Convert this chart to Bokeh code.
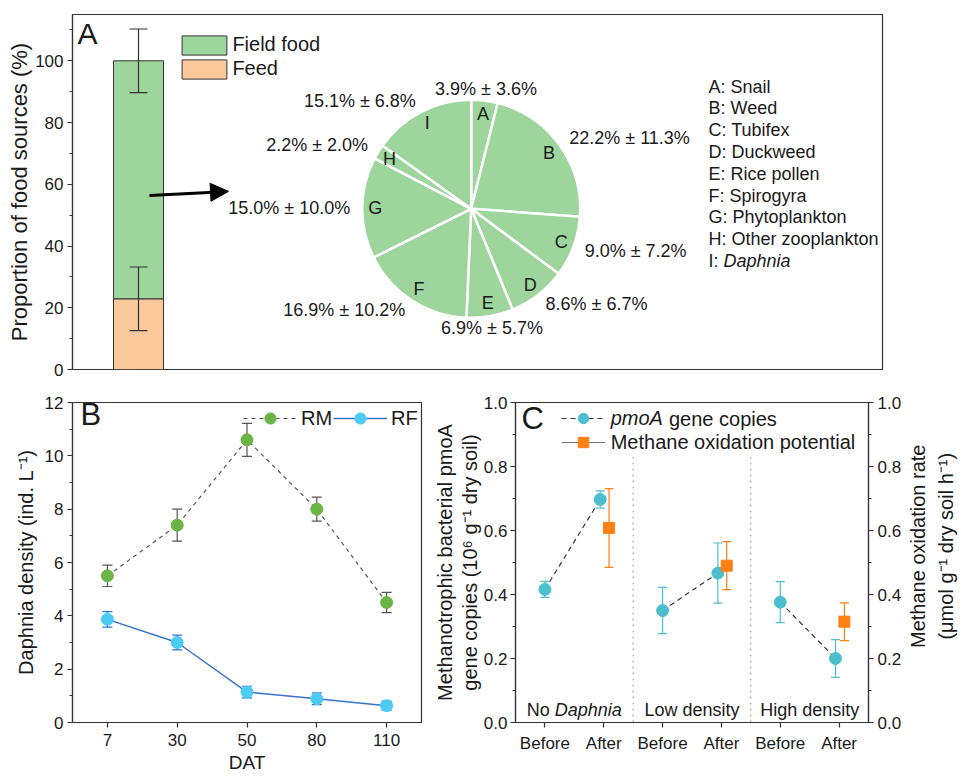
import math
from bokeh.plotting import figure
from bokeh.layouts import column, row
from bokeh.models import (ColumnDataSource, Range1d, SingleIntervalTicker, FixedTicker, Whisker,
                          TeeHead, Legend, LegendItem, Label, Arrow, NormalHead, LinearAxis,
                          NumeralTickFormatter)
from bokeh.core.properties import value
from bokeh.embed import file_html
from bokeh.resources import INLINE

# ---------------- data ----------------
source_names = ["Field food", "Feed"]
source_pct = [77.1, 22.9]
source_sd = [10.3, 10.3]

pie_letters = ["A", "B", "C", "D", "E", "F", "G", "H", "I"]
pie_names = ["Snail", "Weed", "Tubifex", "Duckweed", "Rice pollen", "Spirogyra",
             "Phytoplankton", "Other zooplankton", "Daphnia"]
pie_pct = [3.9, 22.2, 9.0, 8.6, 6.9, 16.9, 15.0, 2.2, 15.1]
pie_sd = [3.6, 11.3, 7.2, 6.7, 5.7, 10.2, 10.0, 2.0, 6.8]

dat_labels = ["7", "30", "50", "80", "110"]
rm_mean = [5.5, 7.4, 10.6, 8.0, 4.5]
rm_sd = [0.40, 0.60, 0.62, 0.45, 0.38]
rf_mean = [3.87, 3.0, 1.14, 0.89, 0.63]
rf_sd = [0.29, 0.28, 0.22, 0.22, 0.17]

groups = ["No Daphnia", "Low density", "High density"]
phases = ["Before", "After"]
pmoa_mean = [0.416, 0.697, 0.350, 0.467, 0.376, 0.200]
pmoa_sd = [0.025, 0.027, 0.072, 0.094, 0.064, 0.059]
mox_mean = [0.608, 0.490, 0.315]
mox_sd = [0.123, 0.075, 0.059]

# ---------------- style ----------------
FONT = "Liberation Sans"
AX = "#333333"
TXT = "#1a1a1a"
FIELD_C = "#9dd59c"
FEED_C = "#fbc99c"
RM_C = "#6ab545"
RM_ERR = "#555555"
RF_C = "#4ccbf6"
RF_LINE = "#3473d1"
PM_C = "#4cbfcf"
MOX_C = "#ff7f10"

ARIAL = {" ": 278, "(": 333, ")": 333, ".": 278, "-": 333, "%": 889, ":": 278,
         "A": 667, "B": 667, "C": 722, "D": 722, "E": 667, "F": 611, "G": 778, "H": 722,
         "I": 278, "L": 556, "M": 833, "N": 722, "O": 778, "P": 667, "R": 722, "S": 667,
         "T": 611, "W": 944, "a": 556, "b": 556, "c": 500, "d": 556, "e": 556, "f": 278,
         "g": 556, "h": 556, "i": 222, "j": 222, "k": 500, "l": 222, "m": 833, "n": 556,
         "o": 556, "p": 556, "q": 556, "r": 333, "s": 500, "t": 278, "u": 556, "v": 500,
         "w": 722, "x": 500, "y": 500, "z": 500}


def tw(s, px):
    return sum(ARIAL.get(c, 556) for c in s) * px / 1000.0


def style_axis(ax, size="17px", standoff=4):
    ax.axis_line_color = AX
    ax.axis_line_width = 1.2
    ax.major_tick_line_color = AX
    ax.minor_tick_line_color = AX
    ax.major_tick_line_width = 1.2
    ax.major_tick_in = 0
    ax.major_tick_out = 5
    ax.minor_tick_in = 0
    ax.minor_tick_out = 3
    ax.major_label_text_font = FONT
    ax.major_label_text_font_size = size
    ax.major_label_text_color = TXT
    ax.major_label_standoff = standoff


def axis_title(ax, text, size, standoff):
    ax.axis_label = text
    ax.axis_label_text_font = FONT
    ax.axis_label_text_font_size = f"{size}px"
    ax.axis_label_text_font_style = "normal"
    ax.axis_label_text_color = TXT
    ax.axis_label_standoff = standoff


def label_only_axis(text, size, standoff, **kw):
    ax = LinearAxis(ticker=FixedTicker(ticks=[]), **kw)
    ax.axis_line_color = None
    ax.major_tick_line_color = None
    ax.minor_tick_line_color = None
    ax.major_tick_out = 0
    ax.major_tick_in = 0
    ax.minor_tick_out = 0
    ax.minor_tick_in = 0
    ax.major_label_standoff = 0
    axis_title(ax, text, size, standoff)
    return ax


def base_fig(w, h, xr, yr, bl, br, bt, bb, x_axis=True):
    p = figure(width=w, height=h, x_range=xr, y_range=yr, output_backend="svg",
               toolbar_location=None, min_border_left=bl, min_border_right=br,
               min_border_top=bt, min_border_bottom=bb, title=None,
               x_axis_type=("linear" if x_axis else None))
    p.xgrid.visible = False
    p.ygrid.visible = False
    p.outline_line_color = AX
    p.outline_line_width = 1.2
    p.outline_line_alpha = 1.0
    p.background_fill_color = "white"
    p.border_fill_color = "white"
    return p


def text_panel(w, h):
    p = figure(width=w, height=h, x_range=Range1d(0, w), y_range=Range1d(0, h),
               x_axis_type=None, y_axis_type=None, output_backend="svg", title=None,
               toolbar_location=None, min_border=0, min_border_left=0, min_border_right=0,
               min_border_top=0, min_border_bottom=0)
    p.outline_line_color = None
    p.background_fill_color = "white"
    p.border_fill_color = "white"
    return p


def slabel(p, x, y, text, size, style="normal", align="left"):
    p.add_layout(Label(x=x, y=y, x_units="screen", y_units="screen", text=text,
                       text_align=align, text_baseline="middle", text_font=FONT,
                       text_font_size=f"{size}px", text_font_style=style, text_color=TXT))


def ptext(p, x, y, text, size, style="normal", align="left", x_offset=0.0, angle=0.0):
    p.text(x=[x], y=[y], text=[text], x_offset=x_offset, angle=angle,
           text_align=value(align), text_baseline=value("middle"), text_font=value(FONT),
           text_font_size=value(f"{size}px"), text_font_style=value(style), text_color=TXT)


def htext(p, x, y, parts, size):
    widths = [tw(t, size) for t, _ in parts]
    off = -sum(widths) / 2
    for (t, st), w in zip(parts, widths):
        if t.strip():
            ptext(p, x, y, t, size, style=st, align="center", x_offset=off + w / 2)
        off += w


def whisker(p, xs, means, sds, color, cap, lw=1.2, level="underlay"):
    src = ColumnDataSource(dict(x=list(xs), upper=[m + s for m, s in zip(means, sds)],
                                lower=[m - s for m, s in zip(means, sds)]))
    w = Whisker(source=src, base="x", upper="upper", lower="lower", dimension="height",
                line_color=color, line_width=lw,
                upper_head=TeeHead(size=cap, line_color=color, line_width=lw),
                lower_head=TeeHead(size=cap, line_color=color, line_width=lw))
    w.level = level
    p.add_layout(w)


# ================= Panel A =================
TOP_H = 385
A_W = 970
A_L, A_R, A_T, A_B = 72, 88, 14, 16
XA = 50.0                          # pixels per x unit
A_FW = A_W - A_L - A_R
A_FH = TOP_H - A_T - A_B
Y_MAX_A = 115
YA = A_FH / Y_MAX_A                # pixels per y unit

pA = base_fig(A_W, TOP_H, Range1d(0, A_FW / XA), Range1d(0, Y_MAX_A), A_L, A_R, A_T, A_B,
              x_axis=False)
ya = pA.yaxis[0]
ya.ticker = SingleIntervalTicker(interval=20, num_minor_ticks=2)
style_axis(ya)
axis_title(ya, "Proportion of food sources (%)", 22, 0)

BAR_X, BAR_W = 1.32, 1.0
feed_top = source_pct[1]
field_top = source_pct[1] + source_pct[0]
feed_r = pA.vbar(x=[BAR_X], bottom=[0], top=[feed_top], width=BAR_W,
                 fill_color=FEED_C, line_color=AX, line_width=1)
field_r = pA.vbar(x=[BAR_X], bottom=[feed_top], top=[field_top], width=BAR_W,
                  fill_color=FIELD_C, line_color=AX, line_width=1)
whisker(pA, [BAR_X, BAR_X], [feed_top, field_top], [source_sd[1], source_sd[0]], AX, 18,
        level="annotation")

legA = Legend(items=[LegendItem(label=source_names[0], renderers=[field_r]),
                     LegendItem(label=source_names[1], renderers=[feed_r])],
              location=(104.4, 288.5), orientation="vertical", glyph_width=56, glyph_height=24,
              label_height=24, spacing=0, padding=0, margin=0, label_standoff=0,
              border_line_color=None, background_fill_alpha=0,
              label_text_font=FONT, label_text_font_size="20px", label_text_color=TXT)
pA.add_layout(legA)

pA.add_layout(Arrow(x_start=BAR_X + 0.22, y_start=56.4, x_end=3.12, y_end=57.7,
                    line_width=3, line_color="black",
                    end=NormalHead(size=18, fill_color="black", line_color="black")))

# pie
PIE_CX = (470.7 - A_L) / XA
PIE_CY = (TOP_H - A_B - 208.3) / YA
PIE_R = 109
tot = sum(pie_pct)
starts, ends, mids = [], [], []
cum = 0.0
for v in pie_pct:
    a0 = math.pi / 2 - 2 * math.pi * cum / tot
    cum += v
    a1 = math.pi / 2 - 2 * math.pi * cum / tot
    starts.append(a0)
    ends.append(a1)
    mids.append((a0 + a1) / 2)
n = len(pie_pct)
pA.wedge(x="x", y="y", radius=PIE_R, radius_units="screen", start_angle="s", end_angle="e",
         direction="clock", fill_color=FIELD_C, line_color="white", line_width=2.5,
         source=ColumnDataSource(dict(x=[PIE_CX] * n, y=[PIE_CY] * n, s=starts, e=ends)))

R_IN, R_OUT = 96, 121
letter_src = ColumnDataSource(dict(
    x=[PIE_CX] * n, y=[PIE_CY] * n, text=pie_letters,
    xo=[R_IN * math.cos(a) for a in mids], yo=[-R_IN * math.sin(a) for a in mids]))
pA.text(x="x", y="y", text="text", x_offset="xo", y_offset="yo", source=letter_src,
        text_align=value("center"), text_baseline=value("middle"), text_font=value(FONT),
        text_font_size=value("18px"), text_color=TXT)

aligns = []
for a in mids:
    c = math.cos(a)
    aligns.append("left" if c > 0.3 else ("right" if c < -0.3 else "center"))
pct_src = ColumnDataSource(dict(
    x=[PIE_CX] * n, y=[PIE_CY] * n,
    text=[f"{v:.1f}% \u00b1 {s:.1f}%" for v, s in zip(pie_pct, pie_sd)],
    xo=[R_OUT * math.cos(a) for a in mids], yo=[-R_OUT * math.sin(a) for a in mids],
    al=aligns))
pA.text(x="x", y="y", text="text", x_offset="xo", y_offset="yo", text_align="al", source=pct_src,
        text_baseline=value("middle"), text_font=value(FONT), text_font_size=value("18px"),
        text_color=TXT)

# key list
LIST_X = (708 - A_L) / XA
LIST_Y = (TOP_H - A_B - 86) / YA
LIST_DY = 21.8
m = n - 1
pA.text(x=[LIST_X] * m, y=[LIST_Y] * m,
        text=[f"{l}: {nm}" for l, nm in zip(pie_letters[:m], pie_names[:m])],
        y_offset=[i * LIST_DY for i in range(m)], text_align=value("left"),
        text_baseline=value("middle"), text_font=value(FONT), text_font_size=value("18px"),
        text_color=TXT)
pA.text(x=[LIST_X], y=[LIST_Y], text=[f"{pie_letters[m]}:"], y_offset=m * LIST_DY,
        text_align=value("left"), text_baseline=value("middle"), text_font=value(FONT),
        text_font_size=value("18px"), text_color=TXT)
pA.text(x=[LIST_X], y=[LIST_Y], text=[pie_names[m]], y_offset=m * LIST_DY,
        x_offset=tw(f"{pie_letters[m]}: ", 18), text_align=value("left"),
        text_baseline=value("middle"), text_font=value(FONT), text_font_size=value("18px"),
        text_font_style=value("italic"), text_color=TXT)
slabel(pA, 5, A_FH - 19, "A", 30)

# ================= Panel B =================
BOT_H = 394
B_W = 430
B_L, B_R, B_T, B_B = 72, 9, 16, 55
B_FW = B_W - B_L - B_R
B_FH = BOT_H - B_T - B_B
xb = list(range(len(dat_labels)))
pB = base_fig(B_W, BOT_H, Range1d(-0.5, len(xb) - 0.5), Range1d(0, 12), B_L, B_R, B_T, B_B)
xax = pB.xaxis[0]
xax.ticker = FixedTicker(ticks=xb)
xax.major_label_overrides = {i: l for i, l in enumerate(dat_labels)}
style_axis(xax)
xax.major_label_standoff = 6
axis_title(xax, "DAT", 19, 3)
yb = pB.yaxis[0]
yb.ticker = SingleIntervalTicker(interval=2, num_minor_ticks=2)
style_axis(yb)
axis_title(yb, "Daphnia density (ind. L\u207b\u00b9)", 20, 5)

whisker(pB, xb, rm_mean, rm_sd, RM_ERR, 10)
whisker(pB, xb, rf_mean, rf_sd, RF_LINE, 10)
rm_line = pB.line(xb, rm_mean, line_color=RM_ERR, line_dash="4 4", line_width=1.2)
rf_line = pB.line(xb, rf_mean, line_color=RF_LINE, line_width=1.4)
rm_pts = pB.scatter(xb, rm_mean, marker="circle", size=12, fill_color=RM_C, line_color=RM_C)
rf_pts = pB.scatter(xb, rf_mean, marker="circle", size=12, fill_color=RF_C, line_color=RF_C)

legB = Legend(items=[LegendItem(label="RM", renderers=[rm_line, rm_pts]),
                     LegendItem(label="RF", renderers=[rf_line, rf_pts])],
              location=(171, 290), orientation="horizontal", glyph_width=54, glyph_height=28,
              label_height=28, spacing=1, padding=0, margin=0, label_standoff=4,
              border_line_color=None, background_fill_alpha=0,
              label_text_font=FONT, label_text_font_size="20px", label_text_color=TXT)
pB.add_layout(legB)
slabel(pB, 8, B_FH - 15, "B", 31)

# ================= Panel C =================
LABCR_W = 66
C_W = 970 - B_W - LABCR_W
C_L, C_R, C_T, C_B = 82, 36, 17, 57
C_FW = C_W - C_L - C_R
C_FH = BOT_H - C_T - C_B
ncat = len(groups) * len(phases)
pC = base_fig(C_W, BOT_H, Range1d(-0.5, ncat - 0.5), Range1d(0, 1), C_L, C_R, C_T, C_B)
pC.extra_y_ranges = {"right": Range1d(0, 1)}
xc = pC.xaxis[0]
xc.ticker = FixedTicker(ticks=list(range(ncat)))
xc.major_label_overrides = {i: phases[i % len(phases)] for i in range(ncat)}
style_axis(xc)
xc.major_label_standoff = 6
ycl = pC.yaxis[0]
ycl.ticker = SingleIntervalTicker(interval=0.2, num_minor_ticks=2)
ycl.formatter = NumeralTickFormatter(format="0.0")
style_axis(ycl, standoff=3)
axis_title(ycl, "gene copies (10\u2076 g\u207b\u00b9 dry soil)", 20, 0)
pC.add_layout(label_only_axis("Methanotrophic bacterial pmoA", 20, 0), "left")

ycr = LinearAxis(y_range_name="right", ticker=SingleIntervalTicker(interval=0.2, num_minor_ticks=2),
                 formatter=NumeralTickFormatter(format="0.0"))
style_axis(ycr)
pC.add_layout(ycr, "right")

sep_x = [len(phases) * (g + 1) - 0.5 for g in range(len(groups) - 1)]
pC.segment(x0=sep_x, y0=[0] * len(sep_x), x1=sep_x, y1=[0.83] * len(sep_x),
           line_color="#9a9a9a", line_dash="dotted", line_width=1)

PM_OFF, MOX_OFF = -0.06, 0.09
pm_x = [i + (PM_OFF if i % 2 == 1 else 0.0) for i in range(ncat)]
mox_x = [2 * g + 1 + MOX_OFF for g in range(len(groups))]

whisker(pC, pm_x, pmoa_mean, pmoa_sd, PM_C, 9)
whisker(pC, mox_x, mox_mean, mox_sd, MOX_C, 9)
seg_r = pC.segment(x0=pm_x[0::2], y0=pmoa_mean[0::2], x1=pm_x[1::2], y1=pmoa_mean[1::2],
                   line_color="#333333", line_dash="5 4", line_width=1.2)
pm_pts = pC.scatter(pm_x, pmoa_mean, marker="circle", size=12, fill_color=PM_C, line_color=PM_C)
mox_pts = pC.scatter(mox_x, mox_mean, marker="square", size=11, fill_color=MOX_C, line_color=MOX_C)
mox_line = pC.line([float("nan"), float("nan")], [float("nan"), float("nan")],
                   line_color="#777777", line_width=1.2)

LEG_X = 45.7
legC1 = Legend(items=[LegendItem(label="pmoA", renderers=[seg_r, pm_pts])],
               location=(LEG_X, 290.7), glyph_width=44, glyph_height=26, label_height=26,
               padding=0, margin=0, label_standoff=6, border_line_color=None,
               background_fill_alpha=0, label_text_font=FONT, label_text_font_size="20px",
               label_text_font_style="italic", label_text_color=TXT)
legC2 = Legend(items=[LegendItem(label="Methane oxidation potential", renderers=[mox_line, mox_pts])],
               location=(LEG_X, 266.7), glyph_width=44, glyph_height=26, label_height=26,
               padding=0, margin=0, label_standoff=6, border_line_color=None,
               background_fill_alpha=0, label_text_font=FONT, label_text_font_size="20px",
               label_text_color=TXT)
pC.add_layout(legC1)
pC.add_layout(legC2)
slabel(pC, LEG_X + 44 + 6 + tw("pmoA ", 20), 304, "gene copies", 20)

GROUP_Y = 0.04
for g, name in enumerate(groups):
    parts = []
    words = name.split(" ")
    for k, wd in enumerate(words):
        parts.append((wd, "italic" if wd == "Daphnia" else "normal"))
        if k < len(words) - 1:
            parts.append((" ", "normal"))
    htext(pC, 2 * g + 0.5, GROUP_Y, parts, 18)
slabel(pC, 6, C_FH - 16, "C", 31)

# right-hand titles of panel C, reading bottom to top
C_YC = BOT_H - (C_T + C_FH / 2)     # frame centre measured from the bottom
labCR = text_panel(LABCR_W, BOT_H)
ptext(labCR, 13, C_YC, "Methane oxidation rate", 20, align="center", angle=math.pi / 2)
ptext(labCR, 41, C_YC, "(\u03bcmol g\u207b\u00b9 dry soil h\u207b\u00b9)", 20, align="center",
      angle=math.pi / 2)

layout = column(pA, row(pB, pC, labCR, spacing=0), spacing=0)
open("out.html", "w").write(file_html(layout, INLINE))
